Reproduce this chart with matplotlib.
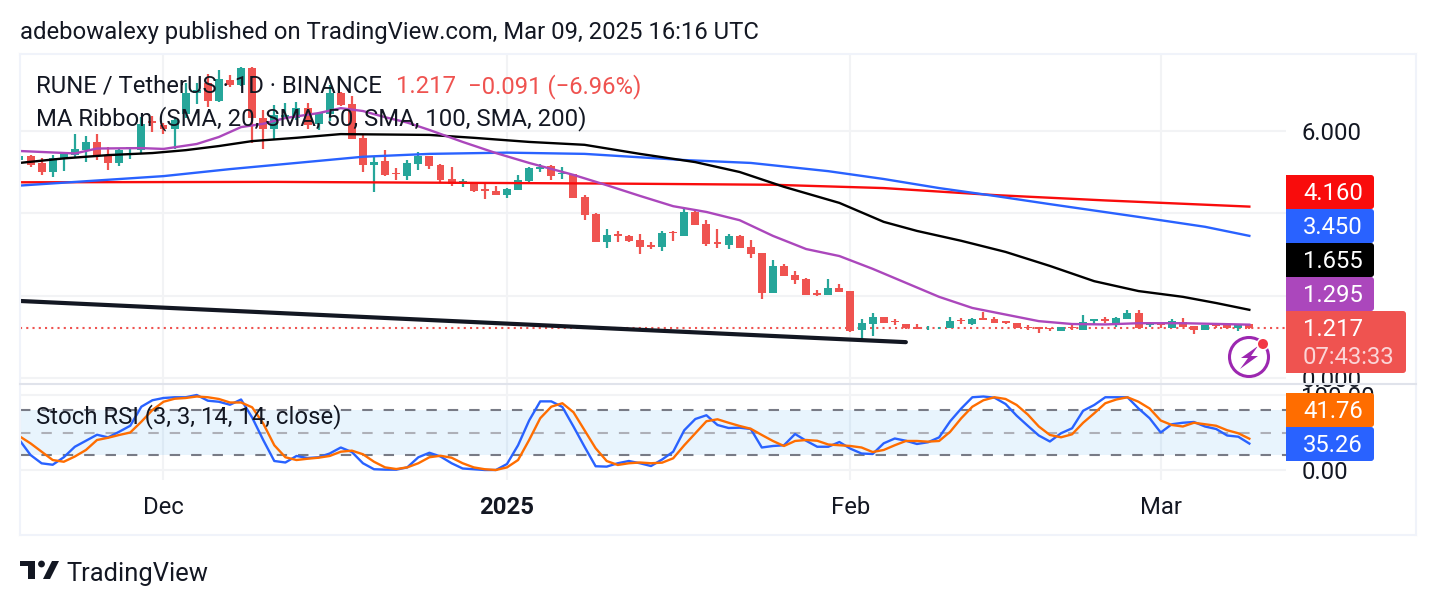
import matplotlib
matplotlib.use("Agg")
import matplotlib.pyplot as plt
from matplotlib.patches import FancyBboxPatch, Polygon, Circle, Rectangle

plt.rcParams['font.family'] = ['Roboto', 'DejaVu Sans']
plt.rcParams['lines.scale_dashes'] = False

# ---- data (day number counted from 1 Dec 2024) ----
first_day = -13
opens = [5.29,5.39,5.21,5.01,5.32,5.42,5.53,5.72,5.40,5.23,
         5.56,5.53,6.24,6.14,6.04,6.41,6.91,7.15,6.73,7.23,
         7.11,7.53,6.32,6.04,6.34,6.30,6.55,6.17,6.41,6.91,
         6.64,5.82,5.17,5.27,4.97,4.90,5.19,5.39,5.17,4.82,
         4.72,4.75,4.58,4.54,4.45,4.56,4.78,5.07,5.15,4.94,
         4.95,4.39,3.98,3.31,3.49,3.45,3.35,3.22,3.19,3.55,
         3.45,4.03,3.74,3.30,3.23,3.45,3.17,3.03,2.06,2.72,
         2.50,2.40,2.06,2.01,2.18,2.11,1.17,1.31,1.47,1.375,
         1.30,1.23,1.23,1.23,1.22,1.41,1.31,1.45,1.44,1.375,
         1.33,1.25,1.23,1.22,1.15,1.25,1.17,1.39,1.42,1.33,
         1.43,1.58,1.29,1.33,1.22,1.37,1.26,1.17,1.30,1.29,1.21,1.308]
highs = [5.39,5.41,5.33,5.41,5.45,5.92,5.87,5.92,5.61,5.57,
         5.61,6.34,6.36,6.18,6.30,7.15,7.15,7.38,7.48,7.35,
         7.56,7.56,6.50,6.63,6.67,6.71,6.67,6.46,7.11,6.93,
         6.84,5.90,5.37,5.53,5.09,5.29,5.49,5.39,5.19,5.11,
         4.82,4.75,4.70,4.66,4.60,4.93,5.11,5.19,5.17,5.11,
         4.95,4.44,4.00,3.61,3.57,3.47,3.50,3.31,3.57,3.57,
         4.13,4.08,3.83,3.62,3.50,3.47,3.35,3.03,2.86,2.76,
         2.60,2.43,2.14,2.40,2.28,2.11,1.42,1.57,1.49,1.42,
         1.30,1.30,1.26,1.25,1.47,1.45,1.45,1.59,1.47,1.375,
         1.33,1.29,1.23,1.22,1.25,1.29,1.53,1.42,1.47,1.47,
         1.65,1.65,1.37,1.33,1.42,1.46,1.26,1.29,1.30,1.29,1.30,1.31]
lows = [5.29,5.11,4.93,4.89,5.03,5.37,5.25,5.28,5.05,5.15,
        5.31,5.44,5.98,5.92,5.57,6.30,6.65,6.57,6.71,7.06,
        7.09,5.70,5.57,5.80,6.34,6.26,6.04,6.02,6.25,6.59,
        5.81,5.01,4.52,4.90,4.81,4.81,5.06,5.07,4.74,4.66,
        4.64,4.52,4.34,4.43,4.37,4.56,4.72,5.01,4.81,4.83,
        4.38,3.83,3.31,3.16,3.31,3.30,3.01,3.13,3.08,3.33,
        3.45,3.71,3.21,3.16,3.13,3.16,2.91,1.92,2.06,2.48,
        2.28,2.01,2.00,2.01,2.09,1.12,0.95,1.03,1.33,1.29,
        1.20,1.18,1.16,1.19,1.21,1.31,1.29,1.41,1.34,1.31,
        1.21,1.17,1.10,1.15,1.15,1.17,1.17,1.29,1.34,1.25,
        1.43,1.19,1.25,1.21,1.21,1.25,1.08,1.17,1.21,1.18,1.15,1.20]
closes = [5.39,5.17,5.01,5.33,5.45,5.56,5.72,5.39,5.23,5.53,
          5.60,6.17,6.20,6.04,6.26,6.91,6.99,6.73,7.25,7.11,
          7.53,6.30,6.04,6.38,6.38,6.55,6.14,6.42,6.91,6.63,
          5.81,5.17,5.25,4.93,4.94,5.21,5.39,5.15,4.81,4.70,
          4.79,4.55,4.55,4.45,4.58,4.81,5.10,5.13,4.91,4.98,
          4.38,3.96,3.31,3.47,3.45,3.33,3.19,3.19,3.52,3.51,
          4.03,3.71,3.25,3.25,3.45,3.16,3.01,2.06,2.72,2.48,
          2.39,2.01,2.01,2.18,2.09,1.14,1.33,1.47,1.34,1.35,
          1.21,1.18,1.25,1.25,1.38,1.38,1.42,1.41,1.34,1.34,
          1.21,1.21,1.20,1.18,1.23,1.21,1.35,1.42,1.39,1.46,
          1.58,1.22,1.33,1.29,1.39,1.25,1.17,1.29,1.27,1.22,1.30,1.217]

sma20_days = [-13,-8,-6,-2,0,3,5,7,9,11,14,16,18,20,22,24,27,30,33,37,40,43,46,49,52,55,58,61,64,67,70,73,76,79,82,85,88,92,98]
sma20 = [5.51,5.45,5.57,5.58,5.56,5.68,5.85,6.09,6.17,6.31,6.43,6.55,6.48,6.33,6.20,6.02,5.73,5.46,5.22,4.93,4.68,4.42,4.17,4.03,3.83,3.45,3.13,2.96,2.65,2.31,1.97,1.70,1.54,1.38,1.31,1.30,1.33,1.33,1.295]
sma50_days = [-13,-9,-5,-1,2,5,8,12,16,20,24,28,33,38,43,48,52,56,61,65,68,72,76,80,84,88,92,95,98]
sma50 = [5.22,5.33,5.41,5.46,5.53,5.63,5.75,5.83,5.92,5.91,5.90,5.83,5.73,5.66,5.44,5.24,5.00,4.64,4.25,3.79,3.57,3.33,3.06,2.72,2.35,2.11,1.97,1.82,1.655]
sma100_days = [-13,0,6,12,18,24,31,38,47,53,60,65,70,75,80,88,94,98]
sma100 = [4.67,4.90,5.07,5.22,5.37,5.44,5.47,5.44,5.29,5.22,5.02,4.83,4.61,4.42,4.22,3.91,3.67,3.45]
sma200_days = [-13,10,25,40,55,65,75,85,98]
sma200 = [4.75,4.76,4.74,4.72,4.69,4.61,4.44,4.31,4.16]

trend_days = [-13, 67]
trend_prices = [1.87, 0.87]
last_price = 1.217

stoch_k = [40,20,8.9,7,17,31,39,47,43.5,51,59,84.4,93,96,97,97,100,92.4,91,87,94,70,40,12,10,18.7,16,17,22,30,24,9,1,0.5,0.4,3.5,17,23,18,9,2,1,0,0,8,33,66,91.5,91.5,84,58,31,5,4.5,9,12,9,
           5.3,14,24.4,53,68,73,60,56,56.4,54.7,30,32,33,48,39,31,31,37.3,28.4,22,21.3,35.6,42,39,34.7,37,43.5,65,82,97,98,96.4,88,72.4,59,46,38,49,55.6,79,86.7,97,97,97,82,69,50,61,63,64,58,54.7,46,44.4,35.26]
stoch_d = [45,35.5,24.4,13.3,11,18,26.7,40,43,46.7,50,64.4,80,91,95,96,98,97,94.7,90,90,83.6,62,33,17,13.3,15,16.4,18.7,24.4,25.8,21,11,3.5,1.3,3.5,9,17,19,16.4,9,3.5,1,0,3.5,13.3,40,69,84.4,89,77,53,29,12,6.7,9,10,
           9,9.8,15.6,33,49,65,67.6,63,58.7,55,46.7,38.7,32,38.7,40,39,34,33,32,30,24,26.7,33,38.7,38.7,37.8,38.7,51,69,84.4,93,97,94.7,86.7,74,58,46.7,43.6,47.6,63,75.6,89,94,97,91,82,66,60,58,63,61,59,53,49,41.76]

month_days = [0, 31, 62, 90]
month_labels = ['Dec', '2025', 'Feb', 'Mar']
price_ticks = [0, 2, 4, 6]
price_labels = ['0.000', '', '', '6.000']
stoch_ticks = [0, 100]
stoch_bands = [20, 50, 80]

tags = [('4.160', '#F90C0C', 175), ('3.450', '#2962FF', 209), ('1.655', '#000000', 243), ('1.295', '#AB47BC', 277)]
stoch_tags = [('41.76', '#FF6D00', 393), ('35.26', '#2962FF', 427)]

UP, DOWN = '#26A69A', '#EF5350'
INK = '#131722'
GRID = '#F2F3F5'
W, H = 1436, 606
FS = 17.2

fig = plt.figure(figsize=(W/100, H/100), dpi=100, facecolor='white')

def pane(x0, y0, x1, y1):
    return fig.add_axes([x0/W, 1-y1/H, (x1-x0)/W, (y1-y0)/H], zorder=1)

days = [first_day + i for i in range(len(opens))]
pxx, x_dec = 11.08, 163.5

# ---- price pane ----
ax = pane(20, 54, 1286, 383)
ax.set_xlim((20-x_dec)/pxx, (1286-x_dec)/pxx)
ax.set_ylim((378-383)/41.2, (378-54)/41.2)
ax.set_axisbelow(True)
ax.grid(True, color=GRID, lw=1.5)
ax.set_xticks(month_days)
ax.set_yticks(price_ticks)
ax.set_yticklabels(price_labels, fontsize=FS, color=INK)
ax.tick_params(axis='x', length=0, labelbottom=False)
ax.yaxis.tick_right()
ax.tick_params(axis='y', length=0, pad=11)
for s in ax.spines.values():
    s.set_visible(False)

for n, o, h, l, c in zip(days, opens, highs, lows, closes):
    col = UP if c >= o else DOWN
    ax.plot([n, n], [l, h], color=col, lw=1.6, solid_capstyle='butt', zorder=3)
    ax.bar(n, abs(c-o), bottom=min(o, c), width=0.72, color=col, lw=0, zorder=3)

ax.plot(sma200_days, sma200, color='#F90C0C', lw=1.7, zorder=4)
ax.plot(sma100_days, sma100, color='#2962FF', lw=1.7, zorder=4)
ax.plot(sma50_days, sma50, color='#000000', lw=1.7, zorder=4)
ax.plot(sma20_days, sma20, color='#AB47BC', lw=1.7, zorder=4)
ax.plot(trend_days, trend_prices, color=INK, lw=3.0, solid_capstyle='round', zorder=5)
ax.axhline(last_price, color=DOWN, lw=1.5, dashes=(1.5, 3.0), zorder=2)

# ---- stochastic RSI pane ----
ax2 = pane(20, 384, 1286, 480)
ax2.set_xlim(ax.get_xlim())
ax2.set_ylim((470-480)/0.75, (470-384)/0.75)
ax2.set_axisbelow(True)
ax2.grid(True, color=GRID, lw=1.5)
ax2.set_xticks(month_days)
ax2.set_xticklabels(month_labels, fontsize=FS, color=INK)
ax2.get_xticklabels()[1].set_fontweight('bold')
ax2.tick_params(axis='x', length=0, pad=11.5)
ax2.set_yticks(stoch_ticks)
ax2.set_yticklabels([f'{t:.2f}' for t in stoch_ticks], fontsize=FS, color=INK)
ax2.yaxis.tick_right()
ax2.tick_params(axis='y', length=0, pad=11)
for s in ax2.spines.values():
    s.set_visible(False)
ax2.axhspan(stoch_bands[0], stoch_bands[2], color='#2196F3', alpha=0.1, lw=0, zorder=1)
for b, col in zip(stoch_bands, ['#787B86', '#AEB0B8', '#787B86']):
    ax2.axhline(b, color=col, lw=1.5, dashes=(7.5, 7.9), zorder=2)
ax2.plot(days, stoch_k, color='#2962FF', lw=1.7, zorder=3)
ax2.plot(days, stoch_d, color='#FF6D00', lw=1.7, zorder=4)

# ---- overlay in pixel space: frame, legends, value tags, logo ----
ui = fig.add_axes([0, 0, 1, 1], zorder=5)
ui.set_xlim(0, W)
ui.set_ylim(H, 0)
ui.axis('off')
ui.patch.set_alpha(0)

for pts in ([(20, 54), (1416, 54)], [(20, 535), (1416, 535)], [(20, 54), (20, 535)], [(1416, 54), (1416, 535)]):
    ui.plot(*zip(*pts), color='#F0F3FA', lw=1.5, zorder=1)
ui.plot([20, 1416], [383.5, 383.5], color='#E0E3EB', lw=1.5, zorder=1)

ui.text(20, 32.5, 'adebowalexy published on TradingView.com, Mar 09, 2025 16:16 UTC',
        fontsize=FS, color=INK, va='center', ha='left')
ui.text(36, 86.5, 'RUNE / TetherUS · 1D · BINANCE', fontsize=FS, color=INK, va='center')
ui.text(396, 86.5, '1.217', fontsize=FS, color=DOWN, va='center')
ui.text(468, 86.5, '−0.091 (−6.96%)', fontsize=FS, color=DOWN, va='center')
ui.text(36, 119, 'MA Ribbon (SMA, 20, SMA, 50, SMA, 100, SMA, 200)', fontsize=FS, color=INK, va='center')
ui.text(36, 417, 'Stoch RSI (3, 3, 14, 14, close)', fontsize=FS, color=INK, va='center')

def tag(x0, y0, x1, y1, col):
    ui.add_patch(Rectangle((x0, y0), 6, y1-y0, color=col, lw=0, zorder=5))
    ui.add_patch(FancyBboxPatch((x0+3, y0), x1-x0-3, y1-y0, boxstyle='round,pad=0,rounding_size=3',
                                fc=col, ec='none', zorder=5))

tag(1286, 311, 1406, 373, DOWN)
ui.text(1303, 330, '1.217', fontsize=FS, color='white', va='center', zorder=6)
ui.text(1303, 358, '07:43:33', fontsize=FS, color='#FBD5D7', va='center', zorder=6)
for label, col, y in tags + stoch_tags:
    tag(1286, y, 1374, y+34, col)
    ui.text(1303, y+18.5, label, fontsize=FS, color='white', va='center', zorder=6)

# alert icon
ui.add_patch(Circle((1249, 357), 19.5, fc='none', ec='#9C27B0', lw=2.2, zorder=6))
ui.add_patch(Polygon([(1258, 346), (1241, 358), (1248, 358), (1240, 369), (1258, 356), (1251, 356)],
                     fc='#9C27B0', ec='none', zorder=6))
ui.add_patch(Circle((1263, 344), 6.5, fc='white', ec='none', zorder=7))
ui.add_patch(Circle((1263, 344), 5, fc='#F23645', ec='none', zorder=8))

# TradingView logo
ui.add_patch(Polygon([(20, 561), (35, 561), (35, 579), (28, 579), (28, 566), (20, 566)], fc=INK, ec='none'))
ui.add_patch(Circle((41.5, 564), 3.4, fc=INK, ec='none'))
ui.add_patch(Polygon([(43, 579), (52, 561), (59, 561), (50, 579)], fc=INK, ec='none'))
ui.text(66, 573.5, 'TradingView', fontsize=18.4, color=INK, va='center')

fig.savefig('out.png', dpi=100, facecolor='white')
